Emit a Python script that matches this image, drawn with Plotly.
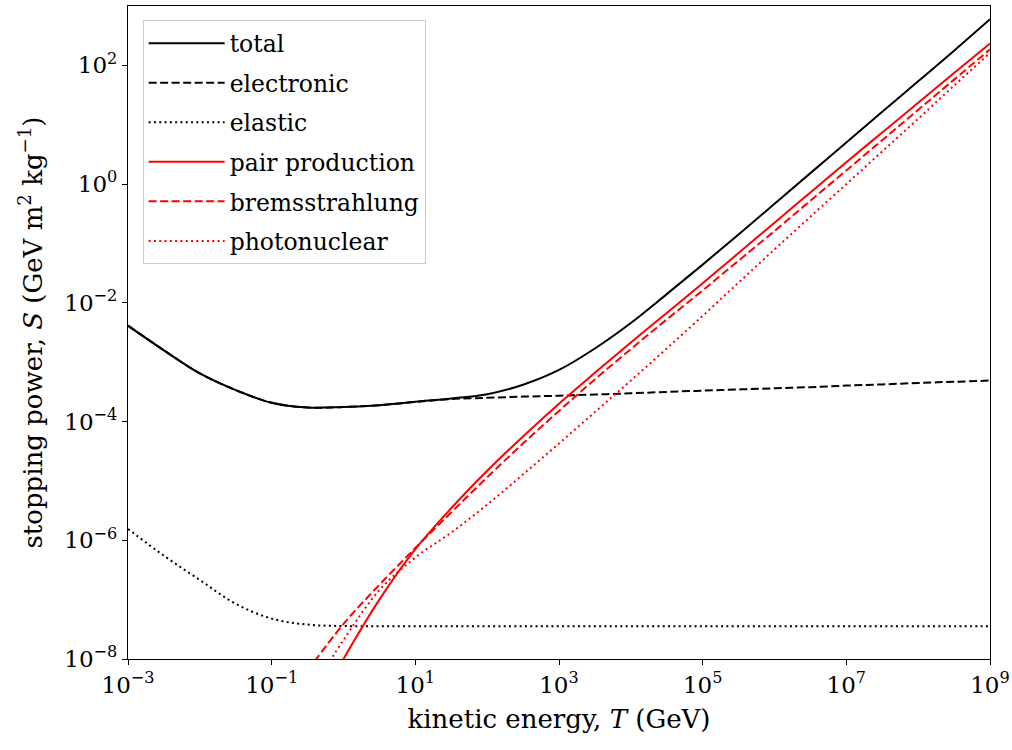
import plotly.graph_objects as go

# kinetic energy grid (GeV), half-decade steps
energy = [1e-3, 3.16e-3, 1e-2, 3.16e-2, 0.1, 0.316, 1, 3.16, 10, 31.6, 100, 316,
          1e3, 3.16e3, 1e4, 3.16e4, 1e5, 3.16e5, 1e6, 3.16e6, 1e7, 3.16e7, 1e8, 3.16e8, 1e9]
# radiative losses only appear from ~0.3 GeV upward
energy_rad = energy[5:]

total = [4.12e-3, 1.585e-3, 6.46e-4, 3.39e-4, 2.07e-4, 1.72e-4, 1.76e-4, 1.89e-4, 2.16e-4,
         2.45e-4, 2.88e-4, 4.17e-4, 7.40e-4, 1.70e-3, 4.57e-3, 1.40e-2, 4.40e-2, 0.142,
         0.465, 1.53, 5.04, 16.5, 53.8, 177, 600]
electronic = [4.12e-3, 1.585e-3, 6.46e-4, 3.39e-4, 2.07e-4, 1.72e-4, 1.76e-4, 1.88e-4, 2.14e-4,
              2.40e-4, 2.51e-4, 2.63e-4, 2.72e-4, 2.85e-4, 2.99e-4, 3.16e-4, 3.31e-4, 3.47e-4,
              3.63e-4, 3.80e-4, 4.03e-4, 4.22e-4, 4.47e-4, 4.68e-4, 4.90e-4]
elastic = [1.55e-6, 5.50e-7, 2.14e-7, 8.51e-8, 4.79e-8, 3.80e-8, 3.59e-8] + [3.55e-8] * 18
pair = [7.94e-10, 1.00e-8, 1.00e-7, 7.08e-7, 3.47e-6, 1.48e-5, 5.62e-5, 2.00e-4, 6.61e-4,
        2.14e-3, 6.76e-3, 2.14e-2, 6.92e-2, 0.224, 0.724, 2.34, 7.41, 23.4, 74.1, 234]
brems = [6.31e-9, 3.89e-8, 1.78e-7, 7.41e-7, 2.95e-6, 1.15e-5, 4.27e-5, 1.51e-4, 5.13e-4,
         1.66e-3, 5.25e-3, 1.62e-2, 5.13e-2, 0.162, 0.525, 1.70, 5.50, 17.8, 57.5, 186]
photonuclear = [2.24e-9, 2.09e-8, 1.445e-7, 5.13e-7, 1.35e-6, 3.98e-6, 1.29e-5, 4.27e-5, 1.445e-4,
                4.90e-4, 1.70e-3, 6.03e-3, 2.19e-2, 7.94e-2, 0.282, 1.00, 3.55, 12.6, 45.7, 162]

x_tickvals = [1e-3, 1e-1, 1e1, 1e3, 1e5, 1e7, 1e9]
x_ticktext = ['10<sup>−3</sup>', '10<sup>−1</sup>', '10<sup>1</sup>', '10<sup>3</sup>',
              '10<sup>5</sup>', '10<sup>7</sup>', '10<sup>9</sup>']
y_tickvals = [1e-8, 1e-6, 1e-4, 1e-2, 1e0, 1e2]
y_ticktext = ['10<sup>−8</sup>', '10<sup>−6</sup>', '10<sup>−4</sup>', '10<sup>−2</sup>',
              '10<sup>0</sup>', '10<sup>2</sup>']

DASH = '8px,3.5px'
DOT = '2px,3.3px'
FONT = '"DejaVu Serif", "Liberation Serif", serif'

series = [
    ('total', energy, total, 'black', 'solid'),
    ('electronic', energy, electronic, 'black', DASH),
    ('elastic', energy, elastic, 'black', DOT),
    ('pair production', energy_rad, pair, '#ff0000', 'solid'),
    ('bremsstrahlung', energy_rad, brems, '#ff0000', DASH),
    ('photonuclear', energy_rad, photonuclear, '#ff0000', DOT),
]

fig = go.Figure()
for name, xs, ys, color, dash in series:
    fig.add_trace(go.Scatter(
        x=xs, y=ys, name=name, mode='lines', legendgroup=name,
        line=dict(color=color, width=2, dash=dash, shape='spline', smoothing=1.0),
    ))

axis_common = dict(
    type='log', showgrid=False, zeroline=False, showline=True, linecolor='black',
    linewidth=1.2, mirror=True, ticks='outside', ticklen=5, tickwidth=1.2,
    tickcolor='black', tickfont=dict(size=23, color='black', family=FONT),
)
fig.update_xaxes(axis_common, range=[-3, 9], tickvals=x_tickvals, ticktext=x_ticktext,
                 title=dict(text='kinetic energy, <i>T</i> (GeV)',
                            font=dict(size=26, color='black', family=FONT), standoff=13))
fig.update_yaxes(axis_common, range=[-8, 3.0], tickvals=y_tickvals, ticktext=y_ticktext,
                 title=dict(text='stopping power, <i>S</i> (GeV m<sup>2</sup> kg<sup>−1</sup>)',
                            font=dict(size=26, color='black', family=FONT), standoff=14))

fig.update_layout(
    width=1012, height=750,
    margin=dict(l=128, r=22, t=6, b=91, autoexpand=False),
    plot_bgcolor='white', paper_bgcolor='white',
    font=dict(family=FONT, color='black'),
    legend=dict(x=0.017, y=0.978, xanchor='left', yanchor='top',
                bgcolor='rgba(255,255,255,0.8)', bordercolor='#cccccc', borderwidth=1,
                font=dict(size=23.5, family=FONT, color='black'),
                itemwidth=76, tracegroupgap=6),
    showlegend=True,
)

# drop the default body margin so the figure sits at the page corner
fig.write_html('out.html', config={'displayModeBar': False},
               post_script="document.body.style.margin='0';")
